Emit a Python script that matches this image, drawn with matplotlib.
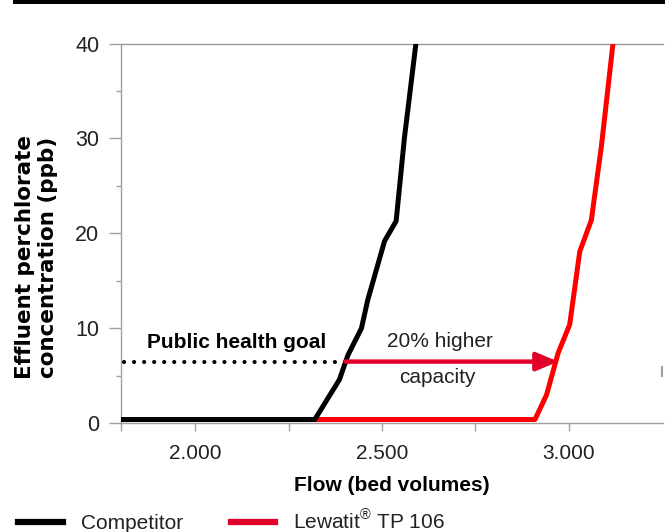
import matplotlib
matplotlib.use('Agg')
import matplotlib.pyplot as plt
from matplotlib.lines import Line2D
from matplotlib.patches import Rectangle

plt.rcParams['font.family'] = ['Liberation Sans', 'DejaVu Sans']
plt.rcParams['mathtext.fontset'] = 'custom'
plt.rcParams['mathtext.rm'] = 'Liberation Sans'

# breakthrough curves
comp_x = [1800, 2320, 2386, 2409, 2445, 2462, 2507, 2538, 2560, 2591]
comp_y = [0.4, 0.4, 4.6, 7.2, 10.0, 13.0, 19.2, 21.3, 30.0, 40.0]
lew_x = [1800, 2910, 2941, 2972, 3003, 3030, 3061, 3088, 3119]
lew_y = [0.4, 0.4, 3.0, 7.4, 10.4, 18.1, 21.4, 29.2, 40.0]

goal = 6.5
arrow_start = 2402
arrow_end = 2972

xticks = [1800, 2000, 2250, 2500, 2750, 3000]
xlabels = ['', '2.000', '', '2.500', '', '3.000']
yticks = [0, 10, 20, 30, 40]
yminor = [5, 15, 25, 35]

grey = '#a0a0a0'
txt = '#222222'
red = '#ff0000'
crimson = '#e0002a'
fs = 15

fig = plt.figure(figsize=(6.65, 5.32), dpi=100)
ax = fig.add_axes([0.1815, 0.2043, 0.8155, 0.7139])

ax.plot(lew_x, lew_y, color=red, lw=3.6, solid_capstyle='butt', zorder=3)
ax.plot(comp_x, comp_y, color='black', lw=3.6, solid_capstyle='butt', zorder=4)

# public health goal
ax.plot([1810, arrow_start], [goal, goal], color='black', lw=3.0,
        linestyle=(0, (0.01, 2.4)), dash_capstyle='round', zorder=5)
ax.annotate('', xy=(arrow_end, goal), xytext=(arrow_start, goal),
            arrowprops=dict(arrowstyle='-|>,head_length=1.3,head_width=0.55',
                            color=crimson, lw=3.2, shrinkA=0, shrinkB=0),
            zorder=5)
ax.text(2110, 8.5, 'Public health goal', fontsize=fs, fontweight='bold',
        color='black', ha='center', va='center')
ax.text(2655, 8.6, '20% higher', fontsize=fs, color=txt,
        ha='center', va='center')
ax.text(2649, 4.8, 'capacity', fontsize=fs, color=txt,
        ha='center', va='center')

ax.set_xlim(1800, 3253)
ax.set_ylim(0, 40)
ax.set_xticks(xticks)
ax.set_xticklabels(xlabels)
ax.set_yticks(yticks)
ax.set_yticks(yminor, minor=True)
ax.tick_params(axis='x', length=6, width=1, color=grey, labelsize=fs,
               labelcolor=txt, pad=9)
ax.tick_params(axis='y', which='major', length=8.5, width=1, color=grey,
               labelsize=fs + 0.5, labelcolor=txt, pad=7)
ax.tick_params(axis='y', which='minor', length=3.6, width=1, color=grey)

ax.spines['right'].set_visible(False)
for s in ['left', 'bottom', 'top']:
    ax.spines[s].set_color(grey)
    ax.spines[s].set_linewidth(1)
ax.spines['top'].set_color('#999999')

ax.set_xlabel('Flow (bed volumes)', fontsize=fs, fontweight='bold', labelpad=9)

fig.text(0.055, 0.516, 'Effluent perchlorate\nconcentration (ppb)', rotation=90,
         fontsize=15.5, fontweight='bold', family=['DejaVu Sans'],
         ha='center', va='center', linespacing=1.15)

# bar across the top
fig.add_artist(Rectangle((13 / 665, 1 - 3.5 / 532), 1, 3.5 / 532,
                         transform=fig.transFigure, color='black', lw=0))
# small stray mark at the right edge
fig.add_artist(Line2D([661.5 / 665, 661.5 / 665], [1 - 367 / 532, 1 - 376 / 532],
                      transform=fig.transFigure, color=grey, lw=1.5))

# legend
handles = [Line2D([], [], color='black', lw=4.5),
           Line2D([], [], color=crimson, lw=4.5)]
fig.legend(handles, ['Competitor', 'Lewatit$^{\\mathrm{\u00ae}}$ TP 106'],
           loc='lower left', bbox_to_anchor=(-0.001, -0.037), ncol=2,
           frameon=False, fontsize=fs, handlelength=2.15, handletextpad=0.85,
           columnspacing=2.3, labelcolor=txt)

fig.savefig('out.png', dpi=100)
